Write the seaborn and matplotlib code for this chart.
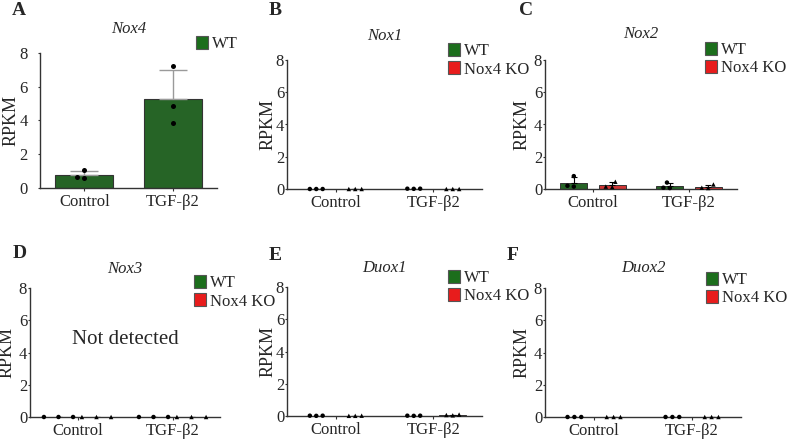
import pandas as pd
import matplotlib
matplotlib.use("Agg")
import matplotlib.pyplot as plt
from matplotlib.patches import Patch
import seaborn as sns

# =====================================================
# 1. DATA (RPKM, three animals per group)
# =====================================================

treatments = ["Control", "TGF-β2"]
genotypes = ["WT", "Nox4 KO"]

nox4_wt = {"Control": [1.05, 0.60, 0.65], "TGF-β2": [7.20, 4.85, 3.85]}

nox1_wt = {"Control": [0.0, 0.0, 0.0], "TGF-β2": [0.02, 0.01, 0.02]}
nox1_ko = {"Control": [0.0, 0.0, 0.0], "TGF-β2": [0.0, 0.0, 0.0]}

nox2_wt = {"Control": [0.80, 0.15, 0.20], "TGF-β2": [0.40, 0.08, 0.06]}
nox2_ko = {"Control": [0.45, 0.12, 0.15], "TGF-β2": [0.28, 0.08, 0.06]}

nox3_wt = {"Control": [0.0, 0.0, 0.0], "TGF-β2": [0.0, 0.0, 0.0]}
nox3_ko = {"Control": [0.0, 0.0, 0.0], "TGF-β2": [0.0, 0.0, 0.0]}

duox1_wt = {"Control": [0.02, 0.01, 0.02], "TGF-β2": [0.02, 0.01, 0.02]}
duox1_ko = {"Control": [0.01, 0.01, 0.02], "TGF-β2": [0.06, 0.09, 0.04]}

duox2_wt = {"Control": [0.0, 0.0, 0.0], "TGF-β2": [0.0, 0.0, 0.0]}
duox2_ko = {"Control": [0.0, 0.0, 0.0], "TGF-β2": [0.0, 0.0, 0.0]}

GREEN = "#1c6e1c"
RED = "#e81c1c"
colors = {"WT": GREEN, "Nox4 KO": RED}

W, H = 787, 440


def long_table(**groups):
    rows = []
    for geno, d in groups.items():
        for t in treatments:
            for v in d[t]:
                rows.append({"genotype": geno, "treatment": t, "rpkm": v})
    return pd.DataFrame(rows)


def rect(x0, y0, x1, y1):
    return [x0 / W, 1 - y1 / H, (x1 - x0) / W, (y1 - y0) / H]


# =====================================================
# 2. STYLE
# =====================================================

sns.set_style("ticks")
plt.rcParams["font.family"] = ["Liberation Serif", "DejaVu Serif"]

fig = plt.figure(figsize=(W / 100, H / 100), dpi=100)


def style_axes(ax, box, title, title_pad, ylab_px, ytick_pad):
    x0, y0, x1, y1 = box
    ax.set_ylim(0, 8)
    ax.set_yticks([0, 2, 4, 6, 8])
    ax.set_xlim(-0.5, 1.5)
    ax.set_xlabel("")
    ax.set_ylabel("RPKM", fontsize=13)
    ax.yaxis.set_label_coords((ylab_px - x0) / (x1 - x0), 0.5)
    ax.set_title(title, style="italic", fontsize=12, pad=title_pad / 1.389)
    for s in ["top", "right"]:
        ax.spines[s].set_visible(False)
    for s in ["left", "bottom"]:
        ax.spines[s].set_color("#333333")
        ax.spines[s].set_linewidth(1.0)
    ax.tick_params(axis="x", length=2.5, width=0.8, pad=1.5, labelsize=12, color="#333333")
    ax.tick_params(axis="y", length=1.5, width=0.8, pad=ytick_pad, labelsize=12, color="#333333")


def unclip(ax):
    for c in ax.collections:
        c.set_clip_on(False)


def add_legend(ax, labels, x_px, y_px):
    handles = [Patch(facecolor=colors[l], edgecolor="#555555", linewidth=0.8) for l in labels]
    ax.legend(handles, labels, loc="upper left",
              bbox_to_anchor=(x_px / W, 1 - y_px / H), bbox_transform=fig.transFigure,
              frameon=False, fontsize=12, handlelength=0.7, handleheight=0.85,
              handletextpad=0.25, labelspacing=0.1, borderpad=0, borderaxespad=0)


def grouped_panel(box, df, title, title_pad, ylab_px, leg_xy, spread):
    # spread: invisible marker edge width, which only widens the swarm spacing
    ax = fig.add_axes(rect(*box))
    sns.barplot(data=df, x="treatment", y="rpkm", hue="genotype", order=treatments,
                hue_order=genotypes, palette=colors, width=0.8, gap=0.3,
                errorbar=None, legend=False, edgecolor="#333333", linewidth=0.7, ax=ax)
    stats = df.groupby(["treatment", "genotype"])["rpkm"].agg(["mean", "std"])
    for p in ax.patches:
        xc = p.get_x() + p.get_width() / 2
        i = int(round(xc))
        geno = genotypes[0] if xc < i else genotypes[1]
        m, s = stats.loc[(treatments[i], geno)]
        ax.errorbar(xc, m, yerr=[[0], [s]], color="black", lw=0.8,
                    capsize=2.5, capthick=0.8, zorder=2)
    for geno, mk in zip(genotypes, ["o", "^"]):
        sns.swarmplot(data=df[df["genotype"] == geno], x="treatment", y="rpkm",
                      hue="genotype", order=treatments, hue_order=genotypes,
                      palette={g: "black" for g in genotypes}, dodge=True, marker=mk,
                      size=3.2, legend=False, linewidth=spread, edgecolor=(0, 0, 0, 0),
                      ax=ax, zorder=3)
    unclip(ax)
    style_axes(ax, box, title, title_pad, ylab_px, 0.5)
    add_legend(ax, genotypes, *leg_xy)
    return ax


# =====================================================
# 3. PANEL A - Nox4 (WT only)
# =====================================================

boxA = (40, 53, 217, 188)
axA = fig.add_axes(rect(*boxA))
dfA = long_table(WT=nox4_wt)
sns.barplot(data=dfA, x="treatment", y="rpkm", order=treatments, color=GREEN,
            width=0.65, errorbar=None, edgecolor="#333333", linewidth=0.8, ax=axA)
statsA = dfA.groupby("treatment")["rpkm"].agg(["mean", "std"]).reindex(treatments)
for p, (m, s) in zip(axA.patches, statsA.values):
    axA.errorbar(p.get_x() + p.get_width() / 2, m, yerr=[[0], [s]], color="#9a9a9a",
                 lw=1.0, capsize=10, capthick=1.0, zorder=2)
sns.swarmplot(data=dfA, x="treatment", y="rpkm", order=treatments, color="black",
              size=3.6, linewidth=1.5, edgecolor=(0, 0, 0, 0), ax=axA, zorder=3)
unclip(axA)
style_axes(axA, boxA, "Nox4", 20, 20, 7.5)
add_legend(axA, ["WT"], 196, 36)

# =====================================================
# 4. PANELS B-F
# =====================================================

grouped_panel((287, 60, 482, 189), long_table(WT=nox1_wt, **{"Nox4 KO": nox1_ko}),
              "Nox1", 20, 277, (448, 43), 1.2)
grouped_panel((545, 60, 737, 189), long_table(WT=nox2_wt, **{"Nox4 KO": nox2_ko}),
              "Nox2", 22, 531, (705, 42), 1.2)
axD = grouped_panel((30, 288, 220, 417), long_table(WT=nox3_wt, **{"Nox4 KO": nox3_ko}),
                    "Nox3", 15, 16, (194, 275), 6.8)
axD.text(0.5, 4.8, "Not detected", transform=axD.get_yaxis_transform(),
         fontsize=15, ha="center", va="center")
grouped_panel((287, 287, 482, 416), long_table(WT=duox1_wt, **{"Nox4 KO": duox1_ko}),
              "Duox1", 15, 277, (448, 270), 1.2)
grouped_panel((545, 288, 741, 417), long_table(WT=duox2_wt, **{"Nox4 KO": duox2_ko}),
              "Duox2", 16, 531, (706, 272), 1.5)

# panel letters
for letter, (lx, ly) in zip("ABCDEF", [(12, 15), (269, 15), (519, 15),
                                       (13, 258), (269, 260), (507, 260)]):
    fig.text(lx / W, 1 - ly / H, letter, fontsize=14, fontweight="bold", va="baseline")

fig.savefig("out.png", dpi=100)
